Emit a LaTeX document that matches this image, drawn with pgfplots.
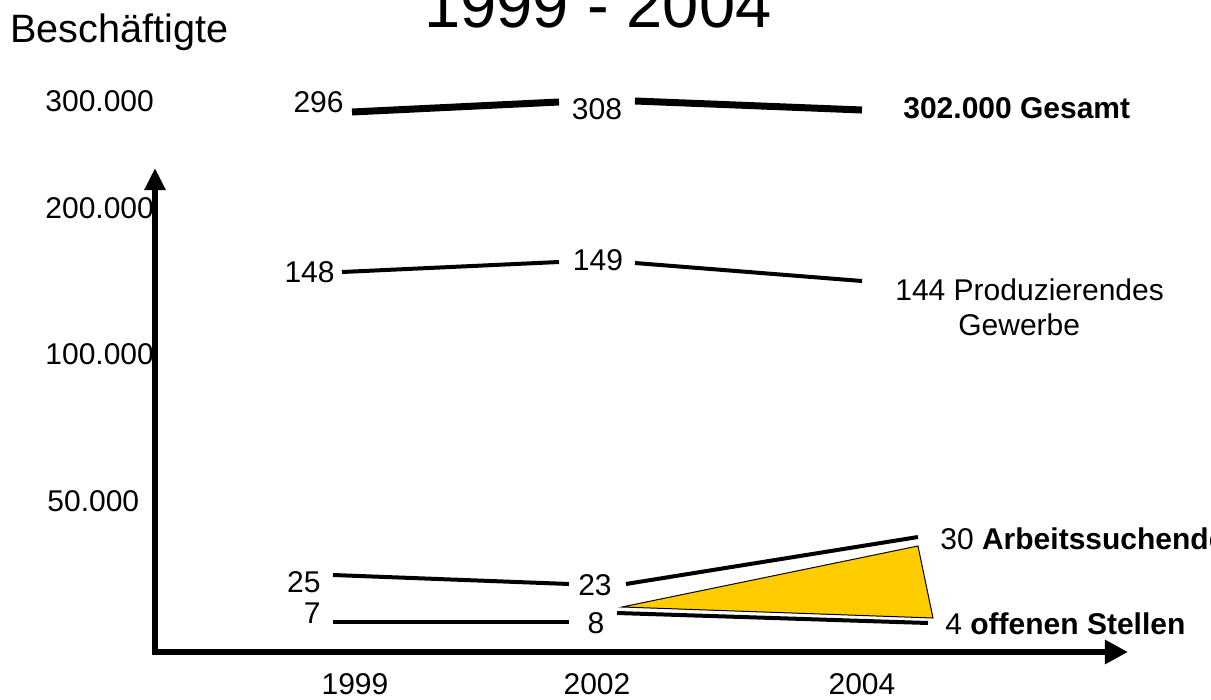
\documentclass[border=0pt]{standalone}
\usepackage{fontspec}
\setmainfont{Liberation Sans}
\usepackage{pgfplots}
\pgfplotsset{compat=1.18}
\usetikzlibrary{arrows.meta}
\definecolor{gold}{HTML}{FFCC00}
\newcommand{\lab}{\fontsize{15bp}{18bp}\selectfont}
\begin{document}
\begin{tikzpicture}
\useasboundingbox (0,0) rectangle (605.5bp,350bp);
\clip (0,0) rectangle (605.5bp,350bp);
\begin{axis}[at={(0,0)}, anchor=south west, x=0.5bp, y=0.5bp,
  xmin=0, xmax=1211, ymin=0, ymax=700, hide axis, clip=false]
% axes
\addplot[line width=3bp, -{Triangle[length=11bp,width=10bp]}] coordinates {(155,46) (155,532)};
\addplot[line width=3bp, -{Triangle[length=11.5bp,width=11.5bp]}] coordinates {(152,48) (1128,48)};
% Gesamt
\addplot[line width=3.5bp] coordinates {(352,588) (559,598)};
\addplot[line width=3.5bp] coordinates {(635,599) (862,590)};
% Produzierendes Gewerbe
\addplot[line width=2bp] coordinates {(342,428) (559,438)};
\addplot[line width=2bp] coordinates {(635,437) (862,419)};
% Arbeitssuchende
\addplot[line width=2bp] coordinates {(333,125) (569,116)};
\addplot[line width=2bp] coordinates {(626,116) (918,163)};
% offene Stellen
\addplot[line width=2bp] coordinates {(333,78) (569,78)};
\addplot[line width=2bp] coordinates {(617,87) (928,77)};
% triangle
\addplot[fill=gold, draw=black, line width=0.5bp] coordinates {(622,93) (918,154) (933,82)} -- cycle;
% texts
\node[anchor=base west, inner sep=0, font=\fontsize{19.8bp}{22bp}\selectfont] at (axis cs:10,658) {Beschäftigte};
\node[anchor=base, inner sep=0, font=\fontsize{32.5bp}{36bp}\selectfont] at (axis cs:598,673) {1999 - 2004};
\node[anchor=base west, inner sep=0, font=\lab] at (axis cs:45,589) {300.000};
\node[anchor=base west, inner sep=0, font=\lab] at (axis cs:45,482) {200.000};
\node[anchor=base west, inner sep=0, font=\lab] at (axis cs:45,336) {100.000};
\node[anchor=base west, inner sep=0, font=\lab] at (axis cs:47,189) {50.000};
\node[anchor=base, inner sep=0, font=\lab] at (axis cs:355,6) {1999};
\node[anchor=base, inner sep=0, font=\lab] at (axis cs:597,6) {2002};
\node[anchor=base, inner sep=0, font=\lab] at (axis cs:862,6) {2004};
\node[anchor=base east, inner sep=0, font=\lab] at (axis cs:344,588) {296};
\node[anchor=base, inner sep=0, font=\lab] at (axis cs:597,581) {308};
\node[anchor=base west, inner sep=0, font=\lab\bfseries] at (axis cs:903,582) {302.000 Gesamt};
\node[anchor=base east, inner sep=0, font=\lab] at (axis cs:335,418) {148};
\node[anchor=base, inner sep=0, font=\lab] at (axis cs:598,430) {149};
\node[anchor=base west, inner sep=0, font=\lab] at (axis cs:895,400) {144 Produzierendes};
\node[anchor=base west, inner sep=0, font=\lab] at (axis cs:958,365) {Gewerbe};
\node[anchor=base east, inner sep=0, font=\lab] at (axis cs:321,108) {25};
\node[anchor=base, inner sep=0, font=\lab] at (axis cs:595,105) {23};
\node[anchor=base west, inner sep=0, font=\lab] at (axis cs:940,151) {30 \textbf{Arbeitssuchende}};
\node[anchor=base east, inner sep=0, font=\lab] at (axis cs:321,77) {7};
\node[anchor=base, inner sep=0, font=\lab] at (axis cs:596,67) {8};
\node[anchor=base west, inner sep=0, font=\lab] at (axis cs:945,66) {4 \textbf{offenen Stellen}};
\end{axis}
\end{tikzpicture}
\end{document}
